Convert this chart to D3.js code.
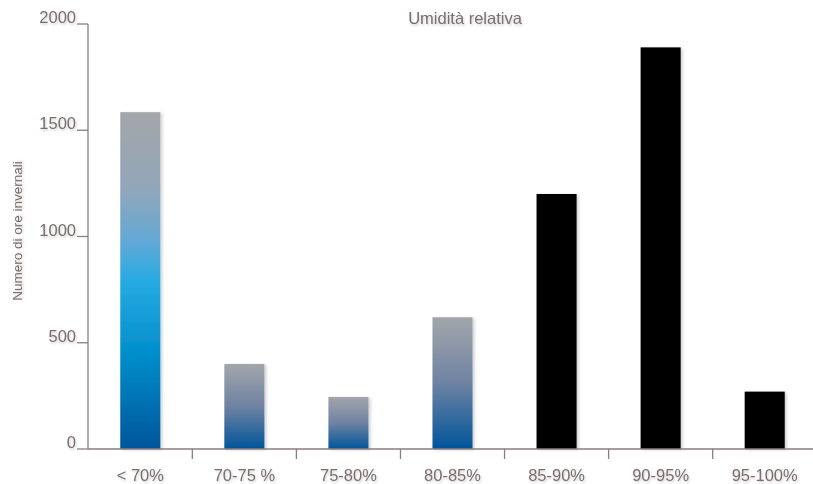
<!DOCTYPE html>
<html>
<head>
<meta charset="utf-8">
<script src="https://cdn.jsdelivr.net/npm/d3@7"></script>
<style>
  html, body { margin: 0; padding: 0; background: #fff; }
  svg text { font-family: "Liberation Sans", Arial, sans-serif; fill: #7b6d6d; }
</style>
</head>
<body>
<svg id="chart" width="813" height="484"></svg>
<script>
// Hours of winter per relative-humidity class
const categories = ["< 70%", "70-75 %", "75-80%", "80-85%", "85-90%", "90-95%", "95-100%"];
const hours = [1585, 400, 245, 620, 1200, 1890, 270];
const fillStyle = ["sky", "steel", "steel", "steel", "black", "black", "black"];
const yTicks = [0, 500, 1000, 1500, 2000];
const chartTitle = "Umidità relativa";
const yTitle = "Numero di ore invernali";

const svg = d3.select("#chart");
const margin = { left: 88, right: -4, top: 24, bottom: 35 };
const W = 813, H = 484;

const x = d3.scaleBand().domain(categories)
  .range([margin.left, W - margin.right]).paddingInner(0.615).paddingOuter(0.31);
const y = d3.scaleLinear().domain([0, 2000]).range([H - margin.bottom, margin.top]);

const defs = svg.append("defs");
const sky = defs.append("linearGradient").attr("id", "sky")
  .attr("x1", 0).attr("y1", 0).attr("x2", 0).attr("y2", 1);
[[0, "#a3a6aa"], [0.22, "#93a6b8"], [0.38, "#64a9d6"], [0.5, "#27aae2"], [0.72, "#008ecb"], [1, "#00559a"]]
  .forEach(([o, c]) => sky.append("stop").attr("offset", o).attr("stop-color", c));
const steel = defs.append("linearGradient").attr("id", "steel")
  .attr("x1", 0).attr("y1", 0).attr("x2", 0).attr("y2", 1);
[[0, "#a3a6ab"], [0.5, "#6e82a2"], [1, "#00559a"]]
  .forEach(([o, c]) => steel.append("stop").attr("offset", o).attr("stop-color", c));

const shadow = defs.append("filter").attr("id", "shadow")
  .attr("x", "-20%").attr("y", "-5%").attr("width", "150%").attr("height", "115%");
shadow.append("feDropShadow").attr("dx", 2).attr("dy", 1).attr("stdDeviation", 1.5)
  .attr("flood-color", "#000").attr("flood-opacity", 0.18);

const tshadow = defs.append("filter").attr("id", "tshadow")
  .attr("x", "-10%").attr("y", "-20%").attr("width", "130%").attr("height", "160%");
tshadow.append("feDropShadow").attr("dx", 1).attr("dy", 1.5).attr("stdDeviation", 1)
  .attr("flood-color", "#000").attr("flood-opacity", 0.2);

// Bars
svg.append("g").selectAll("rect").data(categories).join("rect")
  .attr("x", d => x(d))
  .attr("width", x.bandwidth())
  .attr("y", (d, i) => y(hours[i]))
  .attr("height", (d, i) => y(0) - y(hours[i]))
  .attr("fill", (d, i) => fillStyle[i] === "black" ? "#000" : `url(#${fillStyle[i]})`)
  .attr("filter", "url(#shadow)");

const axisColor = "#8a7d7d";

// Y axis: vertical line with short ticks to the left, labels sitting on the ticks
const gy = svg.append("g");
gy.append("line").attr("x1", margin.left).attr("x2", margin.left)
  .attr("y1", y(2000)).attr("y2", y(0)).attr("stroke", axisColor).attr("stroke-width", 1.3);
gy.selectAll("line.tk").data(yTicks).join("line").attr("class", "tk")
  .attr("x1", margin.left - 11).attr("x2", margin.left)
  .attr("y1", d => y(d)).attr("y2", d => y(d))
  .attr("stroke", axisColor).attr("stroke-width", 1.3);
gy.selectAll("text").data(yTicks).join("text")
  .attr("x", margin.left - 12).attr("y", d => y(d) - 1)
  .attr("text-anchor", "end").attr("font-size", 16.5)
  .attr("filter", "url(#tshadow)")
  .text(d => d);

// X axis: baseline running to the right edge, ticks at class boundaries
const gx = svg.append("g");
gx.append("line").attr("x1", margin.left).attr("x2", W)
  .attr("y1", y(0)).attr("y2", y(0)).attr("stroke", axisColor).attr("stroke-width", 1.3);
const step = x.step();
gx.selectAll("line.tk").data(categories.slice(1)).join("line").attr("class", "tk")
  .attr("x1", d => x(d) + x.bandwidth() / 2 - step / 2)
  .attr("x2", d => x(d) + x.bandwidth() / 2 - step / 2)
  .attr("y1", y(0)).attr("y2", y(0) + 10)
  .attr("stroke", axisColor).attr("stroke-width", 1.3);
gx.selectAll("text").data(categories)
  .join("text")
  .attr("x", d => x(d) + x.bandwidth() / 2)
  .attr("y", y(0) + 32)
  .attr("text-anchor", "middle").attr("font-size", 16.5)
  .attr("filter", "url(#tshadow)")
  .text(d => d);

// Titles
svg.append("text").attr("x", 465).attr("y", 24)
  .attr("text-anchor", "middle").attr("font-size", 16.5).attr("fill", "#6f6262")
  .attr("filter", "url(#tshadow)")
  .text(chartTitle);
svg.append("text")
  .attr("transform", `translate(22, ${231}) rotate(-90)`)
  .attr("text-anchor", "middle").attr("font-size", 13.5).attr("fill", "#6f6262")
  .attr("filter", "url(#tshadow)")
  .text(yTitle);
</script>
</body>
</html>
